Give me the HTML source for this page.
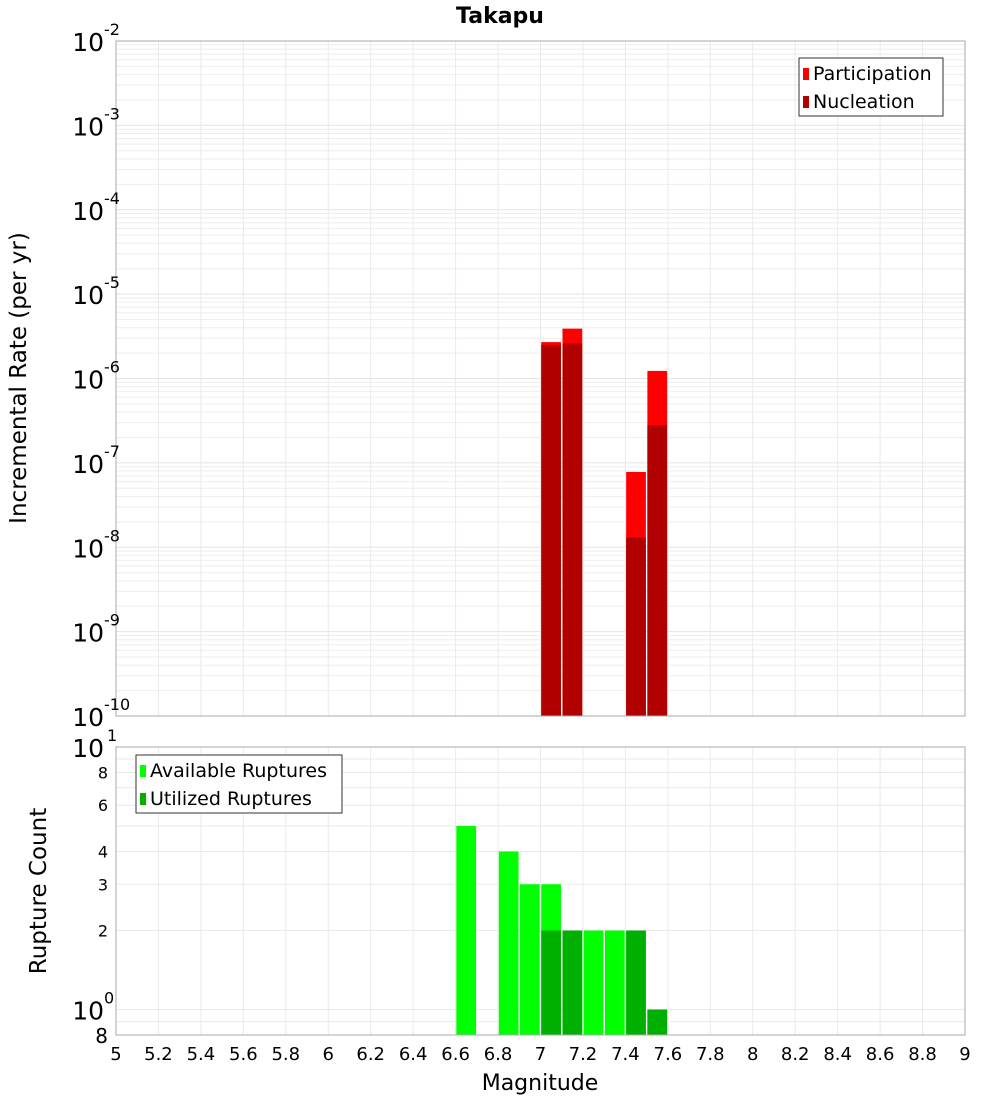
<!DOCTYPE html>
<html><head><meta charset="utf-8"><style>
body{margin:0;background:#fff;font-family:"Liberation Sans","DejaVu Sans",sans-serif}
svg text{font-family:"DejaVu Sans","Liberation Sans",sans-serif}
</style></head><body>
<svg id="chart" width="1000" height="1100" xmlns="http://www.w3.org/2000/svg">
<rect width="1000" height="1100" fill="#fff"/>
<text x="500" y="23" text-anchor="middle" font-size="22" font-weight="bold">Takapu</text>
<g id="g"></g>
</svg>
<script>
const mags=[7.05,7.15,7.45,7.55];
const participation=[2.7e-6,3.9e-6,7.8e-8,1.23e-6];
const nucleation=[2.5e-6,2.6e-6,1.3e-8,2.8e-7];
const countMags=[6.65,6.85,6.95,7.05,7.15,7.25,7.35,7.45,7.55];
const available=[5,4,3,3,2,2,2,2,1];
const utilizedMags=[7.05,7.15,7.45,7.55];
const utilized=[2,2,2,1];
const xTicks=[5,5.2,5.4,5.6,5.8,6,6.2,6.4,6.6,6.8,7,7.2,7.4,7.6,7.8,8,8.2,8.4,8.6,8.8,9];
const topExps=[-2,-3,-4,-5,-6,-7,-8,-9,-10];
const botTicks=[2,3,4,6,8];

const NS="http://www.w3.org/2000/svg",G=document.getElementById('g');
function el(t,a,txt){const e=document.createElementNS(NS,t);for(const k in a)e.setAttribute(k,a[k]);if(txt!==undefined)e.textContent=txt;G.appendChild(e);return e;}
const X0=116,X1=965,T0=41,T1=716,B0=747,B1=1035;
const x=m=>X0+(m-5)/(9-5)*(X1-X0);
const yT=v=>T0+(-2-Math.log10(v))/8*(T1-T0);
const yB=v=>B0+(1-Math.log10(v))/(1-Math.log10(0.8))*(B1-B0);
for(let d=-10;d<-2;d++)for(let k=1;k<10;k++){const yy=yT(k*Math.pow(10,d));
 const l=el('line',{x1:X0,x2:X1,y1:yy,y2:yy,stroke:k==1?'#e4e4e4':'#eeeeee','stroke-width':1});
 }
[0.9,1,2,3,4,5,6,7,8,9].forEach(v=>{const yy=yB(v);const l=el('line',{x1:X0,x2:X1,y1:yy,y2:yy,stroke:'#eaeaea'});
 });
xTicks.forEach(m=>{[[T0,T1],[B0,B1]].forEach(r=>{const l=el('line',{x1:x(m),x2:x(m),y1:r[0],y2:r[1],stroke:'#eaeaea'});
 });});
const bw=x(5.1)-x(5)-1.5;
mags.forEach((m,i)=>{
 const p=el('rect',{x:x(m)-bw/2,y:yT(participation[i]),width:bw,height:T1-yT(participation[i]),fill:'#ff0000'});
 
 const n=el('rect',{x:x(m)-bw/2,y:yT(nucleation[i]),width:bw,height:T1-yT(nucleation[i]),fill:'#b00000'});
 
});
countMags.forEach((m,i)=>{const r=el('rect',{x:x(m)-bw/2,y:yB(available[i]),width:bw,height:B1-yB(available[i]),fill:'#00ff00'});
 });
utilizedMags.forEach((m,i)=>{const r=el('rect',{x:x(m)-bw/2,y:yB(utilized[i]),width:bw,height:B1-yB(utilized[i]),fill:'#00b000'});
 });
[[T0,T1,'top-plot-frame'],[B0,B1,'bottom-plot-frame']].forEach(f=>{const r=el('rect',{x:X0,y:f[0],width:X1-X0,height:f[1]-f[0],fill:'none',stroke:'#aaa'});
 });
topExps.forEach(e=>{const yy=yT(Math.pow(10,e));
 const t=el('text',{x:104,y:yy+10,'text-anchor':'end','font-size':25},'10');
 
 const s=el('text',{x:104,y:yy-6,'font-size':16},String(e));
 });
botTicks.forEach(v=>{const t=el('text',{x:108,y:yB(v)+6,'text-anchor':'end','font-size':16},String(v));
 });
let t=el('text',{x:104,y:yB(10)+10,'text-anchor':'end','font-size':25},'10');
t=el('text',{x:107,y:yB(10)-6,'font-size':16},'1');
t=el('text',{x:104,y:yB(1)+10,'text-anchor':'end','font-size':25},'10');
t=el('text',{x:104,y:yB(1)-6,'font-size':16},'0');
t=el('text',{x:108,y:yB(0.8)+8,'text-anchor':'end','font-size':20},'8');
xTicks.forEach(m=>{const l=el('text',{x:x(m),y:1060,'text-anchor':'middle','font-size':18},String(m));
 });
t=el('text',{x:540,y:1090,'text-anchor':'middle','font-size':22},'Magnitude');
t=el('text',{x:0,y:0,'text-anchor':'middle','font-size':23,transform:'translate(26,378) rotate(-90)'},'Incremental Rate (per yr)');
t=el('text',{x:0,y:0,'text-anchor':'middle','font-size':23,transform:'translate(46,891) rotate(-90)'},'Rupture Count');
function legend(x0,y0,w,items,name){const r=el('rect',{x:x0,y:y0,width:w,height:58,fill:'#fff',stroke:'#333'});
 
 items.forEach((it,i)=>{const s=el('rect',{x:x0+4,y:y0+10+i*28,width:6,height:12,fill:it[1]});
  
  const tx=el('text',{x:x0+14,y:y0+22+i*28,'font-size':19},it[0]);
  });}
legend(799,58,144,[['Participation','#ff0000'],['Nucleation','#b00000']],'top-legend');
legend(136,755,206,[['Available Ruptures','#00ff00'],['Utilized Ruptures','#00b000']],'bottom-legend');
</script>
</body></html>
